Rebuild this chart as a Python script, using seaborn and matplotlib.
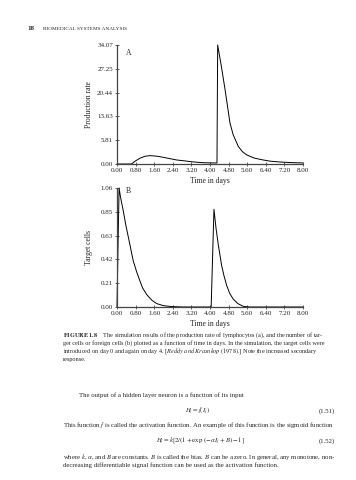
import numpy as np
import pandas as pd
import matplotlib.pyplot as plt
import seaborn as sns

# values (panel A: production rate, panel B: target cells)
time_a = [0.00, 0.40, 0.62, 0.80, 1.00, 1.20, 1.42, 1.70, 2.00, 2.30, 2.57, 2.90, 3.20,
          3.50, 3.71, 4.00, 4.30, 4.33, 4.50, 4.65, 4.86, 5.00, 5.22, 5.40, 5.58, 5.90,
          6.29, 6.60, 7.01, 7.50, 8.00]
prod_rate = [0.00, 0.00, 0.00, 0.90, 1.70, 2.20, 2.40, 2.25, 1.90, 1.50, 1.15, 0.90, 0.65,
             0.48, 0.37, 0.32, 0.30, 34.07, 27.5, 21.2, 11.7, 8.3, 5.0, 3.5, 2.6, 1.7,
             1.15, 0.80, 0.57, 0.40, 0.30]

time_b = [0.00, 0.04, 0.09, 0.15, 0.27, 0.38, 0.49, 0.60, 0.70, 0.85, 0.99, 1.10, 1.28,
          1.50, 1.71, 2.00, 2.28, 2.80, 3.50, 4.05, 4.17, 4.26, 4.36, 4.50, 4.60, 4.72,
          4.85, 5.00, 5.20, 5.43, 5.70, 6.50, 7.50, 8.00]
target_cells = [0.00, 0.50, 1.06, 0.98, 0.855, 0.73, 0.62, 0.51, 0.41, 0.31, 0.23, 0.17, 0.11,
                0.06, 0.03, 0.012, 0.005, 0.0, 0.0, 0.0, 0.87, 0.70, 0.55, 0.37, 0.28, 0.19,
                0.12, 0.07, 0.03, 0.006, 0.0, 0.0, 0.0, 0.0]

x_ticks = [0.0, 0.8, 1.6, 2.4, 3.2, 4.0, 4.8, 5.6, 6.4, 7.2, 8.0]
x_labels = ['0.00', '0.80', '1.60', '2.40', '3.20', '4.00', '4.80', '5.60', '6.40', '7.20', '8.00']
a_ticks = [0.0, 6.814, 13.628, 20.442, 27.256, 34.07]
a_labels = ['0.00', '5.81', '13.63', '20.44', '27.25', '34.07']
b_ticks = [0.0, 0.212, 0.424, 0.636, 0.848, 1.06]
b_labels = ['0.00', '0.21', '0.42', '0.63', '0.85', '1.06']

caption = [
    r"$\mathbf{FIGURE\ 1.8}$    The simulation results of the production rate of lymphocytes (a), and the number of tar-",
    "get cells or foreign cells (b) plotted as a function of time in days. In the simulation, the target cells were",
    "introduced on day 0 and again on day 4. [$\\it{Reddy\\ and\\ Krasnkop\\ (1978)}$.] Note the increased secondary",
    "response.",
]

sns.set_theme(style='ticks')
plt.rcParams['font.family'] = ['Liberation Serif', 'DejaVu Serif']
plt.rcParams['mathtext.fontset'] = 'stix'

W, H = 356, 480
fig = plt.figure(figsize=(W / 100, H / 100), dpi=100)
ax_a = fig.add_axes([117 / W, 1 - 164 / H, 186 / W, 119 / H])
ax_b = fig.add_axes([117 / W, 1 - 307 / H, 186 / W, 119 / H])

df_a = pd.DataFrame({'t': time_a, 'v': prod_rate})
df_b = pd.DataFrame({'t': time_b, 'v': target_cells})
sns.lineplot(data=df_a, x='t', y='v', ax=ax_a, color='black', linewidth=0.7,
             sort=False, estimator=None, clip_on=False)
sns.lineplot(data=df_b, x='t', y='v', ax=ax_b, color='black', linewidth=0.7,
             sort=False, estimator=None, clip_on=False)

panels = [(ax_a, a_ticks, a_labels, 'Production rate', 'A', 0.935),
          (ax_b, b_ticks, b_labels, 'Target cells', 'B', 0.975)]
for ax, yt, yl, ylab, tag, ty in panels:
    ax.set_xlim(0, 8)
    ax.set_ylim(0, yt[-1])
    ax.set_xticks(x_ticks, x_labels)
    ax.set_yticks(yt, yl)
    ax.tick_params(direction='inout', length=2.5, width=0.5, labelsize=5, pad=1.5,
                   colors='#222222')
    sns.despine(ax=ax)
    for s in ['left', 'bottom']:
        ax.spines[s].set_linewidth(0.9)
        ax.spines[s].set_color('#444444')
    ax.set_xlabel('Time in days', fontsize=5.5, color='#222222')
    ax.xaxis.set_label_coords(0.5, -0.11)
    ax.set_ylabel(ylab, fontsize=5.5, color='#222222')
    ax.yaxis.set_label_coords(-0.129, 0.5)
    ax.text(0.048, ty, tag, transform=ax.transAxes, fontsize=5.5, va='center')

# page header
fig.text(27 / W, 1 - 29 / H, '18', fontsize=5, fontweight='bold', va='center')
fig.text(43 / W, 1 - 29 / H, 'BIOMEDICAL SYSTEMS ANALYSIS', fontsize=3.8, va='center')

# caption
for i, line in enumerate(caption):
    fig.text(63 / W, 1 - (335 + 8 * i) / H, line, fontsize=4.5, va='center')

# body text
body_size = 4.9
fig.text(79 / W, 1 - 395 / H, 'The output of a hidden layer neuron is a function of its input',
         fontsize=body_size, va='center')
fig.text(198 / W, 1 - 411 / H, r'$H_j = f(I_j)$', fontsize=body_size, va='center', ha='center')
fig.text(335 / W, 1 - 411 / H, '(1.51)', fontsize=body_size, va='center', ha='right')
fig.text(63 / W, 1 - 425 / H,
         r'This function $f$ is called the activation function. An example of this function is the sigmoid function',
         fontsize=body_size, va='center')
fig.text(200 / W, 1 - 441 / H, r'$H_j = k[2/(1 + \mathrm{exp}\ (-\,\alpha I_j + B) - 1]$',
         fontsize=body_size, va='center', ha='center')
fig.text(335 / W, 1 - 441 / H, '(1.52)', fontsize=body_size, va='center', ha='right')
fig.text(63 / W, 1 - 457 / H,
         r'where $k$, $\alpha$, and $B$ are constants. $B$ is called the bias. $B$ can be a zero. In general, any monotone, non-',
         fontsize=body_size, va='center')
fig.text(63 / W, 1 - 465 / H,
         'decreasing differentiable signal function can be used as the activation function.',
         fontsize=body_size, va='center')

fig.savefig('out.png', dpi=100)
